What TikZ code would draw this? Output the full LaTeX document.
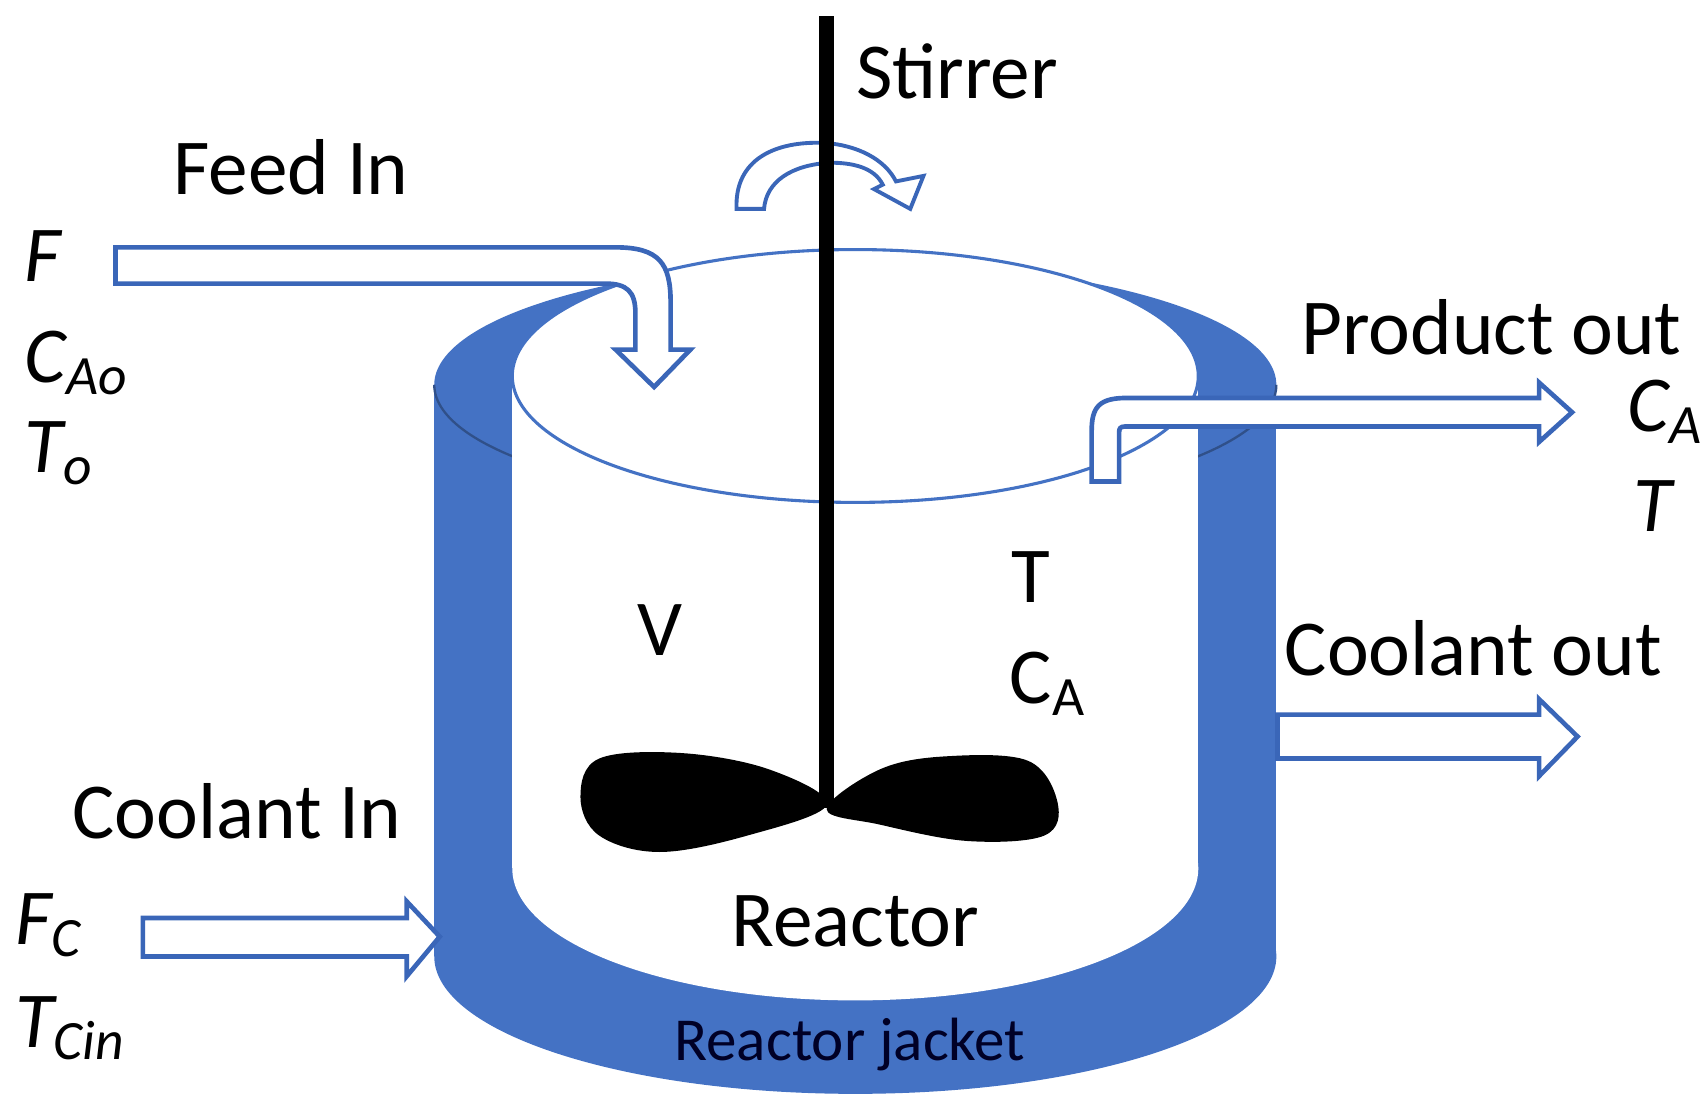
\documentclass[tikz,border=0pt]{standalone}
\usepackage{fontspec}
\setmainfont{Carlito}
\begin{document}
\begin{tikzpicture}[x=0.01cm,y=-0.01cm,
  lbl/.style={font=\fontsize{20.5}{24}\selectfont,inner sep=0},
  ilbl/.style={font=\fontsize{20.5}{24}\selectfont\itshape,inner sep=0,anchor=west},
  pipe/.style={draw=arrowblue,line width=1.2pt,fill=white,line join=miter}]
\definecolor{jblue}{HTML}{4472C4}
\definecolor{arrowblue}{HTML}{3A66B8}
\useasboundingbox (0,0) rectangle (1550,1006);
% jacket
\fill[jblue] (778,350) ellipse [x radius=383,y radius=112];
\fill[jblue] (395,350) rectangle (1161,870);
\fill[jblue] (778,870) ellipse [x radius=383,y radius=125];
\draw[jblue!70!black,line width=0.6pt] (395,350) arc[start angle=180,end angle=360,x radius=383,y radius=-112];
% inner
\fill[white] (778,342) ellipse [x radius=312,y radius=115];
\fill[white] (466,342) rectangle (1090,790);
\fill[white] (778,790) ellipse [x radius=312,y radius=120];
\draw[jblue,line width=0.8pt] (778,342) ellipse [x radius=312,y radius=115];
% rotation arrow
\path[pipe,line width=1pt] (670,190) .. controls (668,145) and (705,128) .. (750,130) .. controls (780,132) and (805,145) .. (815,165) -- (840,160) -- (828,190) -- (795,172) -- (803,168) .. controls (795,152) and (775,148) .. (755,148) .. controls (720,150) and (697,165) .. (695,190) -- cycle;
% shaft
\coordinate (st) at (752,15); \coordinate (sb) at (752,735);
\draw[line width=4pt] (st) -- (sb);
% impeller
\fill plot[smooth cycle,tension=0.6] coordinates {(752,732) (700,700) (620,685) (545,690) (528,725) (545,760) (600,775) (680,760)};
\fill plot[smooth cycle,tension=0.6] coordinates {(752,736) (800,700) (860,688) (935,692) (962,730) (950,760) (880,765) (800,750)};
% feed
\path[pipe] (105,225) -- (560,225) .. controls (600,225) and (610,240) .. (610,275) -- (610,318) -- (628,318) -- (595,352) -- (560,318) -- (578,318) -- (578,285) .. controls (578,265) and (570,258) .. (551,258) -- (105,258) -- cycle;
% product
\path[pipe] (993,438) -- (993,392) .. controls (993,370) and (1000,362) .. (1025,362) -- (1400,362) -- (1400,348) -- (1430,375) -- (1400,402) -- (1400,388) -- (1023,388) .. controls (1019,388) and (1018,390) .. (1018,393) -- (1018,438) -- cycle;
% coolant out
\path[pipe] (1162,650) -- (1400,650) -- (1400,636) -- (1435,670) -- (1400,706) -- (1400,690) -- (1162,690) -- cycle;
% coolant in
\path[pipe] (130,835) -- (370,835) -- (370,820) -- (400,852) -- (370,888) -- (370,870) -- (130,870) -- cycle;
% labels
\node[lbl,anchor=west] (stirrer) at (778,65) {Stirrer};
\node[lbl,anchor=west] (feed) at (157,152) {Feed In};
\node[ilbl] (f) at (22,233) {F};
\node[ilbl] (cao) at (22,330) {C\textsubscript{Ao}};
\node[ilbl] (to) at (22,412) {T\textsubscript{o}};
\node[lbl,anchor=west] (prod) at (1183,298) {Product out};
\node[ilbl] (ca2) at (1480,375) {C\textsubscript{A}};
\node[ilbl] (t2) at (1485,460) {T};
\node[lbl] (v) at (600,573) {V};
\node[lbl] (t) at (938,525) {T};
\node[lbl,anchor=west] (ca) at (918,622) {C\textsubscript{A}};
\node[lbl,anchor=west] (cout) at (1168,590) {Coolant out};
\node[lbl,anchor=west] (cin) at (65,738) {Coolant In};
\node[ilbl] (fc) at (13,842) {F\textsubscript{C}};
\node[ilbl] (tcin) at (13,935) {T\textsubscript{Cin}};
\node[lbl] (reactor) at (778,838) {Reactor};
\node[font=\fontsize{15.8}{18}\selectfont,inner sep=0,text=black!85!blue] (jacket) at (773,950) {Reactor jacket};
\end{tikzpicture}
\end{document}
